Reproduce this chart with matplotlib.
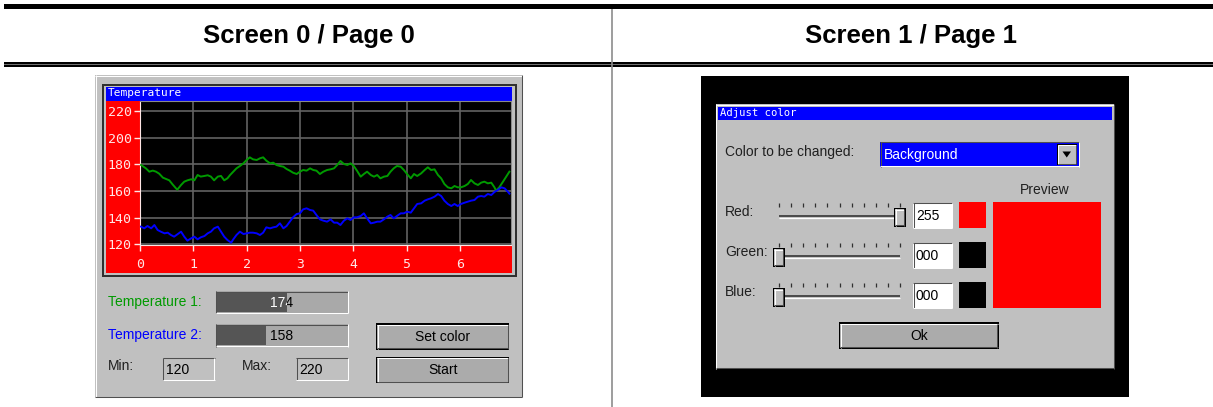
import matplotlib
matplotlib.use("Agg")
import matplotlib.pyplot as plt
from matplotlib.patches import Rectangle, Polygon

# ---- data ----
headers = ["Screen 0 / Page 0", "Screen 1 / Page 1"]

temp1_x = [0.02, 0.11, 0.175, 0.24, 0.30, 0.36, 0.43, 0.49, 0.55, 0.61, 0.675, 0.70, 0.77, 0.83,
           0.89, 0.96, 1.02, 1.08, 1.14, 1.21, 1.27, 1.33, 1.39, 1.46, 1.52, 1.58, 1.64, 1.69,
           1.75, 1.81, 1.875, 1.94, 2.0, 2.06, 2.12, 2.19, 2.25, 2.31, 2.37, 2.44, 2.5, 2.56,
           2.625, 2.69, 2.75, 2.81, 2.87, 2.94, 3.0, 3.06, 3.125, 3.19, 3.25, 3.31, 3.375, 3.44,
           3.51, 3.575, 3.64, 3.7, 3.76, 3.825, 3.89, 3.95, 4.01, 4.07, 4.14, 4.2, 4.26, 4.33,
           4.39, 4.45, 4.51, 4.575, 4.64, 4.7, 4.76, 4.82, 4.89, 4.95, 5.01, 5.08, 5.14, 5.2,
           5.275, 5.34, 5.4, 5.46, 5.525, 5.59, 5.65, 5.71, 5.775, 5.84, 5.9, 5.96, 6.02, 6.09,
           6.15, 6.21, 6.275, 6.34, 6.4, 6.46, 6.525, 6.59, 6.65, 6.68, 6.74, 6.81, 6.87, 6.93]
temp1_y = [179.5, 177, 174.5, 175.3, 174.5, 173, 170, 169, 168, 165, 162, 161, 164.5, 167,
           168, 168.8, 168, 172, 170.8, 171.3, 171.8, 170.8, 168, 170.8, 171.3, 168, 169.5, 172,
           174.5, 177, 178.75, 180.75, 183.25, 185.25, 183.75, 183.25, 184.5, 185.25, 182.75, 180.75, 181.25, 179.5,
           178.75, 178.25, 176.5, 175.25, 173.75, 172.75, 174.5, 175.75, 175.25, 177, 175.75, 175.25, 172.75, 174.5,
           175.75, 176.25, 177, 179.5, 182.5, 180.25, 179.5, 180.75, 178.75, 175.25, 170.75, 172.75, 174.5, 172,
           170.75, 172, 169.5, 170.75, 171.25, 174.5, 177, 178.75, 178.25, 175.75, 172.75, 169.5, 172.75, 171.25,
           173.25, 175.75, 177.75, 175.75, 176.25, 172, 169.5, 165.25, 162.75, 162, 163.75, 162.75, 162.75, 163.75,
           165.25, 168.25, 165.75, 164.5, 166.25, 167, 165.75, 166.25, 162.75, 160.25, 162.75, 167, 170.75, 174.5]

temp2_x = [0.02, 0.08, 0.14, 0.21, 0.27, 0.33, 0.39, 0.46, 0.52, 0.58, 0.64, 0.71, 0.77, 0.83,
           0.89, 0.96, 1.02, 1.08, 1.14, 1.21, 1.27, 1.33, 1.39, 1.46, 1.52, 1.58, 1.64, 1.71,
           1.75, 1.81, 1.875, 1.94, 2.0, 2.06, 2.12, 2.19, 2.25, 2.31, 2.37, 2.44, 2.5, 2.56,
           2.625, 2.69, 2.75, 2.81, 2.87, 2.94, 3.0, 3.06, 3.125, 3.19, 3.25, 3.31, 3.375, 3.44,
           3.51, 3.575, 3.64, 3.7, 3.76, 3.825, 3.89, 3.95, 4.01, 4.07, 4.14, 4.2, 4.26, 4.33,
           4.39, 4.45, 4.51, 4.575, 4.64, 4.7, 4.76, 4.82, 4.89, 4.95, 5.01, 5.08, 5.14, 5.2,
           5.275, 5.34, 5.4, 5.46, 5.525, 5.59, 5.65, 5.71, 5.775, 5.84, 5.9, 5.96, 6.02, 6.09,
           6.15, 6.21, 6.275, 6.34, 6.4, 6.46, 6.525, 6.59, 6.65, 6.71, 6.78, 6.84, 6.9, 6.93]
temp2_y = [133.25, 132, 133.75, 132, 134.5, 130.75, 129.5, 128.25, 128.75, 127, 125.75, 127.75, 129.5, 125.75,
           122.75, 124.5, 125.75, 123.75, 125.25, 126.25, 128.25, 129.5, 132, 133.25, 129.5, 125.75, 123.25, 121.25,
           123.75, 127, 129.5, 127.75, 128.25, 128.75, 128.75, 128.25, 127, 128.75, 132.75, 132, 132.75, 133.25,
           135.75, 132, 133.75, 137, 140.25, 142.75, 143.25, 146.25, 147, 145.75, 145.25, 142, 138.75, 137.75,
           137, 138.75, 136.25, 136.25, 134.5, 137.75, 139.5, 138.25, 140.25, 140.25, 141.25, 143.25, 139.5, 135.75,
           136.25, 137, 137, 138.75, 140.75, 142, 139.5, 141.25, 143.25, 143.25, 144.5, 143.75, 147, 150.25,
           150.75, 152.75, 153.75, 154.5, 155.75, 157.75, 156.25, 152.75, 150.25, 148.75, 150.25, 148.75, 150.25, 151.25,
           152, 152.75, 153.25, 155.75, 156.25, 155.75, 157.75, 157, 159.25, 160.75, 162.75, 162, 159.5, 158]

y_ticks = [120, 140, 160, 180, 200, 220]
x_ticks = [0, 1, 2, 3, 4, 5, 6]
temp_min, temp_max = 120, 220
temp_labels = ["Temperature 1:", "Temperature 2:"]
temp_values = [174, 158]
button_labels = ["Set color", "Start"]

slider_labels = ["Red:", "Green:", "Blue:"]
rgb_values = [255, 0, 0]
color_choice = "Background"

GRAY = "#c0c0c0"
GREEN = "#009a00"
BLUE = "#0000ff"
RED = "#ff0000"
PINK = "#ffe6e6"
UI = "Liberation Sans"
MONO = "DejaVu Sans Mono"

fig = plt.figure(figsize=(12.13, 4.07), dpi=100)
fig.patch.set_facecolor("white")
bg = fig.add_axes([0, 0, 1, 1])
bg.set_xlim(0, 1213)
bg.set_ylim(407, 0)
bg.axis("off")


def box(x0, y0, x1, y1, color, z=1):
    bg.add_patch(Rectangle((x0, y0), x1 - x0, y1 - y0, facecolor=color,
                           edgecolor="none", zorder=z))


def line(xs, ys, color, lw=0.75, z=3):
    bg.plot(xs, ys, color=color, lw=lw, solid_capstyle="butt", zorder=z)


def bevel(x0, y0, x1, y1, face, sunken=True, z=2):
    box(x0, y0, x1, y1, face, z)
    tl, br = ("#505050", "white") if sunken else ("white", "#505050")
    line([x0, x1], [y0 + 0.5, y0 + 0.5], tl, z=z + 0.1)
    line([x0 + 0.5, x0 + 0.5], [y0, y1], tl, z=z + 0.1)
    line([x0, x1], [y1 - 0.5, y1 - 0.5], br, z=z + 0.1)
    line([x1 - 0.5, x1 - 0.5], [y0, y1], br, z=z + 0.1)


def button(x0, y0, x1, y1, label):
    box(x0, y0, x1, y1, "black", 2)
    bevel(x0 + 1.2, y0 + 1.2, x1 - 1.2, y1 - 1.2, "#ababab", sunken=False, z=2.2)
    bg.text((x0 + x1) / 2, (y0 + y1) / 2 + 0.5, label, ha="center", va="center",
            fontsize=10, family=UI, color="black", zorder=4)


# ---- page header ----
box(4, 4, 1213, 8.5, "black")
box(4, 62, 1213, 63.8, "black")
box(4, 63.8, 1213, 65, "#707070")
box(4, 65, 1213, 66.8, "black")
line([611.5, 611.5], [8.5, 407], "#8c8c8c", lw=1.2)
for cx, txt in zip([309, 911], headers):
    bg.text(cx, 36, txt, ha="center", va="center", fontsize=18.5, fontweight="bold",
            family="Liberation Sans", color="black")

# ---- screen 0: temperature window ----
bevel(95, 75, 522, 397, GRAY, sunken=False, z=1)
box(101.5, 83.5, 516.5, 276.5, "#303030", 2)
box(103.5, 85.5, 514.5, 274.5, GRAY, 2.1)
box(105.5, 86.5, 512, 100.5, BLUE, 2.2)
box(105.5, 100.5, 512, 272.5, RED, 2.2)
bg.text(107.5, 93.5, "Temperature", ha="left", va="center", fontsize=8, family=MONO,
        color="white", zorder=4)

ax = fig.add_axes([140 / 1213, 1 - 245 / 407, (511 - 140) / 1213, (245 - 101) / 407])
ax.set_facecolor("black")
ax.plot(temp1_x, temp1_y, color=GREEN, lw=1.4, zorder=3)
ax.plot(temp2_x, temp2_y, color=BLUE, lw=1.4, zorder=3)
ax.set_xlim(0, 6.96)
ax.set_ylim(119.5, 227.5)
ax.set_xticks(x_ticks)
ax.set_yticks(y_ticks)
ax.grid(color="#626262", lw=1.2, zorder=1)
ax.set_axisbelow(True)
ax.tick_params(axis="both", colors=PINK, width=1, length=4, labelsize=9.5)
ax.tick_params(axis="x", pad=5.5)
ax.tick_params(axis="y", pad=2)
for lab in ax.get_xticklabels() + ax.get_yticklabels():
    lab.set_family(MONO)
for s in ["left", "bottom"]:
    ax.spines[s].set_color(PINK)
for s in ["right", "top"]:
    ax.spines[s].set_color("#8a8a8a")

# progress bars
bar_x0, bar_x1 = 215.7, 348.3
for i, (lab, val, col) in enumerate(zip(temp_labels, temp_values, [GREEN, BLUE])):
    y0 = 291 + i * 33.3
    y1 = y0 + 22.3
    cy = (y0 + y1) / 2
    bg.text(108, cy, lab, ha="left", va="center", fontsize=10, family=UI, color=col, zorder=4)
    bevel(bar_x0, y0, bar_x1, y1, "#a9a9a9")
    frac = (val - temp_min) / (temp_max - temp_min)
    fill_x = bar_x0 + 1.5 + frac * (bar_x1 - bar_x0 - 3)
    box(bar_x0 + 1.5, y0 + 1.5, fill_x, y1 - 1.5, "#555555", 2.5)
    cx = (bar_x0 + bar_x1) / 2
    for color, rx0, rx1 in [("white", bar_x0, fill_x), ("black", fill_x, bar_x1)]:
        t = bg.text(cx, cy + 0.5, str(val), ha="center", va="center", fontsize=10,
                    family=UI, color=color, zorder=4)
        t.set_clip_on(True)
        t.set_clip_path(Rectangle((rx0, y0), rx1 - rx0, y1 - y0, transform=bg.transData))

# min / max edits
for lab, lx, ex, val in [("Min:", 108, 162.7, temp_min), ("Max:", 241.7, 296, temp_max)]:
    bg.text(lx, 366.5, lab, ha="left", va="center", fontsize=10, family=UI, color="#202020", zorder=4)
    bevel(ex, 357.7, ex + 52, 380, GRAY)
    bg.text(ex + 3.5, 369.5, str(val), ha="left", va="center", fontsize=10, family=UI,
            color="black", zorder=4)

button(376, 323.3, 509.3, 350, button_labels[0])
button(376, 356.7, 509.3, 383.3, button_labels[1])

# ---- screen 1: adjust colour dialog ----
box(701, 76, 1128.5, 397, "black", 1)
bevel(715.5, 104, 1114, 368.5, GRAY, sunken=False, z=2)
box(718, 106.7, 1112, 120.3, BLUE, 2.5)
bg.text(719.5, 113.5, "Adjust color", ha="left", va="center", fontsize=7.6, family=MONO,
        color="white", zorder=4)

bg.text(725, 152, "Color to be changed:", ha="left", va="center", fontsize=10, family=UI,
        color="#202020", zorder=4)
bevel(880, 141.7, 1079, 166.7, BLUE)
bg.text(883.5, 154.5, color_choice, ha="left", va="center", fontsize=10, family=UI,
        color="white", zorder=4)
box(1056.5, 143.5, 1077, 165, "black", 3)
bevel(1057.5, 144.5, 1076, 164, GRAY, sunken=False, z=3.1)
bg.add_patch(Polygon([[1062.5, 151.5], [1071, 151.5], [1066.75, 157.5]], closed=True,
                     facecolor="black", edgecolor="none", zorder=4))

bg.text(1045, 190, "Preview", ha="center", va="center", fontsize=10, family=UI,
        color="#202020", zorder=4)
r, g, b = rgb_values
box(992.7, 201.7, 1101, 308.3, (r / 255, g / 255, b / 255), 3)

trk_x0, trk_x1 = 779, 900
for i, (lab, val) in enumerate(zip(slider_labels, rgb_values)):
    cy = 215.5 + i * 40
    bg.text(725, cy - 3.5, lab, ha="left", va="center", fontsize=10, family=UI,
            color="#202020", zorder=4)
    for k in range(11):
        tx = trk_x0 + k * (trk_x1 - trk_x0) / 10
        line([tx, tx], [cy - 12.5, cy - 9], "#303030", lw=0.9)
    line([trk_x0, trk_x1], [cy + 0.8, cy + 0.8], "#404040", lw=1.3)
    line([trk_x0, trk_x1], [cy + 2.2, cy + 2.2], "white", lw=0.9)
    thumb = trk_x0 + val / 255 * (trk_x1 - trk_x0)
    box(thumb - 5.8, cy - 7.5, thumb + 5.8, cy + 11.2, "black", 4)
    bevel(thumb - 4.6, cy - 6.3, thumb + 4.4, cy + 10, GRAY, sunken=False, z=4.1)
    bevel(913, cy - 12.8, 952, cy + 12.8, "white")
    bg.text(916, cy + 0.5, "%03d" % val, ha="left", va="center", fontsize=10, family=UI,
            color="black", zorder=4)
    sw = [0, 0, 0]
    sw[i] = val / 255
    box(959, cy - 13.8, 986, cy + 12.8, tuple(sw), 3)

button(839, 322.3, 999, 349, "Ok")

fig.savefig("out.png", dpi=100, facecolor=fig.get_facecolor())
